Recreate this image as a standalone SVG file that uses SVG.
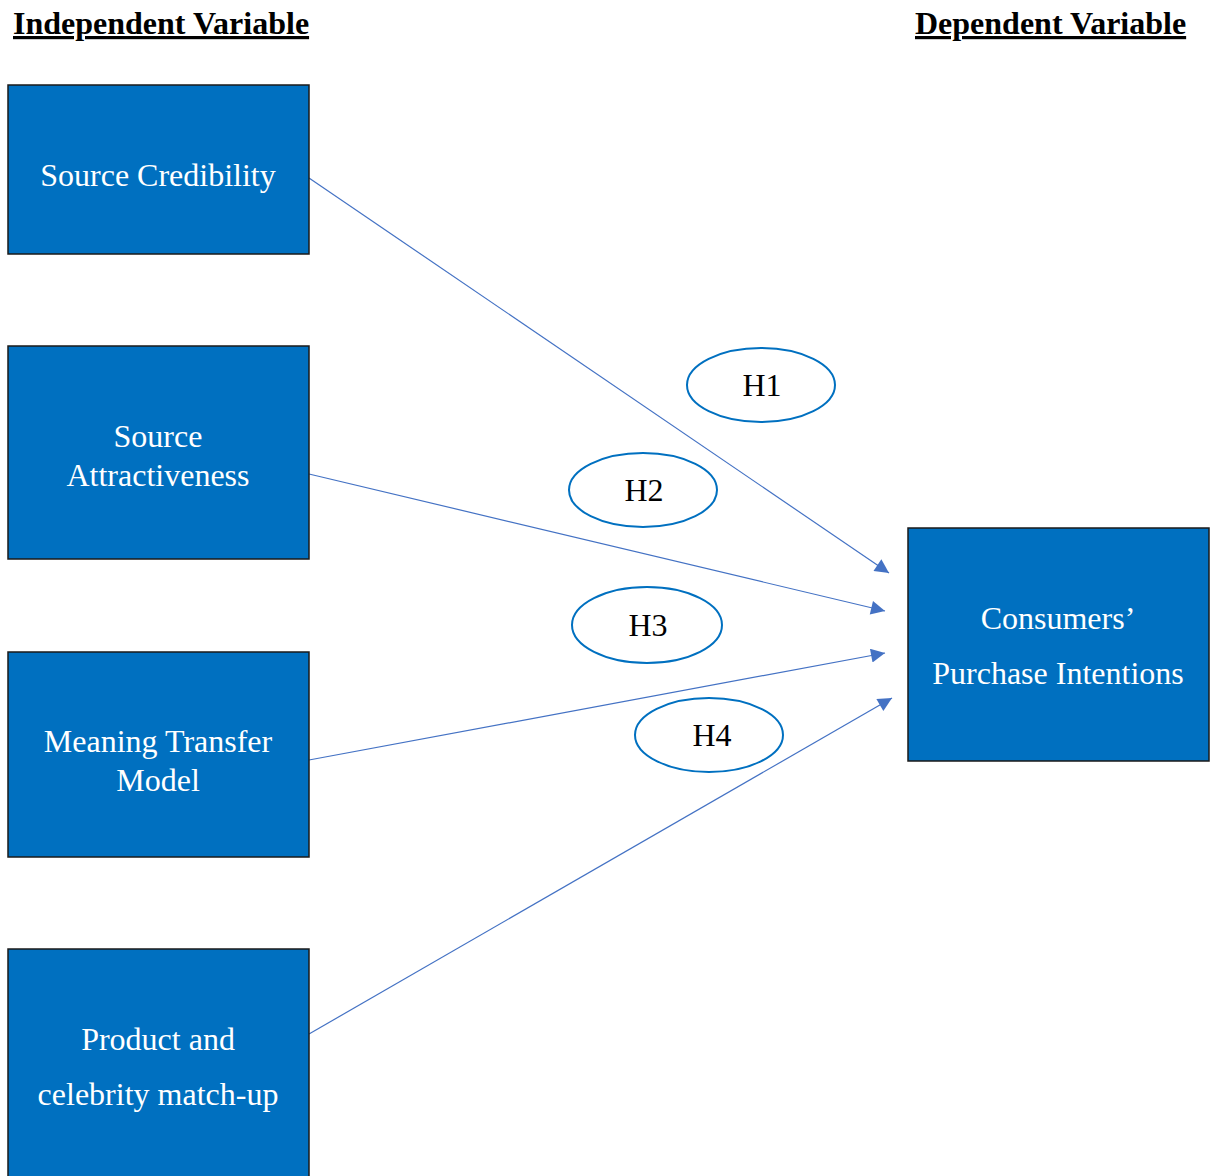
<svg xmlns="http://www.w3.org/2000/svg" width="1216" height="1176" viewBox="0 0 1216 1176">
<defs>
<marker id="arr" viewBox="0 0 10 10" refX="10" refY="5" markerWidth="20" markerHeight="14" markerUnits="userSpaceOnUse" orient="auto">
<path d="M0,0 L10,5 L0,10 z" fill="#4472C4"/>
</marker>
</defs>
<style>
.box{fill:#0070C0;stroke:#1a1a1a;stroke-width:1.5}
.nt{font-family:"Liberation Serif","Times New Roman",serif;font-size:32px;fill:#ffffff;text-anchor:middle}
.hd{font-family:"Liberation Serif","Times New Roman",serif;font-size:32px;font-weight:bold;fill:#000;text-decoration:underline}
.ell{fill:#ffffff;stroke:#0070C0;stroke-width:2}
.ht{font-family:"Liberation Serif","Times New Roman",serif;font-size:32px;fill:#000;text-anchor:middle}
.con{stroke:#4472C4;stroke-width:1.2;fill:none}
</style>
<rect width="1216" height="1176" fill="#ffffff"/>
<g id="headers">
<text class="hd" x="13" y="34">Independent Variable</text>
<text class="hd" x="915" y="34">Dependent Variable</text>
</g>
<g id="connectors">
<line class="con" x1="309" y1="178" x2="889" y2="573" marker-end="url(#arr)"/>
<line class="con" x1="309" y1="474" x2="885" y2="611" marker-end="url(#arr)"/>
<line class="con" x1="309" y1="760" x2="885" y2="653" marker-end="url(#arr)"/>
<line class="con" x1="309" y1="1034" x2="892" y2="698" marker-end="url(#arr)"/>
</g>
<g id="node-source-credibility">
<rect class="box" x="8" y="85" width="301" height="169"/>
<text class="nt" x="158" y="186">Source Credibility</text>
</g>
<g id="node-source-attractiveness">
<rect class="box" x="8" y="346" width="301" height="213"/>
<text class="nt" x="158" y="447">Source</text>
<text class="nt" x="158" y="486">Attractiveness</text>
</g>
<g id="node-meaning-transfer">
<rect class="box" x="8" y="652" width="301" height="205"/>
<text class="nt" x="158" y="752">Meaning Transfer</text>
<text class="nt" x="158" y="791">Model</text>
</g>
<g id="node-match-up">
<rect class="box" x="8" y="949" width="301" height="240"/>
<text class="nt" x="158" y="1050">Product and</text>
<text class="nt" x="158" y="1105">celebrity match-up</text>
</g>
<g id="node-purchase-intentions">
<rect class="box" x="908" y="528" width="301" height="233"/>
<text class="nt" x="1058" y="629">Consumers’</text>
<text class="nt" x="1058" y="684">Purchase Intentions</text>
</g>
<g id="h1">
<ellipse class="ell" cx="761" cy="385" rx="74" ry="37"/>
<text class="ht" x="762" y="396">H1</text>
</g>
<g id="h2">
<ellipse class="ell" cx="643" cy="490" rx="74" ry="37"/>
<text class="ht" x="644" y="501">H2</text>
</g>
<g id="h3">
<ellipse class="ell" cx="647" cy="625" rx="75" ry="38"/>
<text class="ht" x="648" y="636">H3</text>
</g>
<g id="h4">
<ellipse class="ell" cx="709" cy="735" rx="74" ry="37"/>
<text class="ht" x="712" y="746">H4</text>
</g>
</svg>
